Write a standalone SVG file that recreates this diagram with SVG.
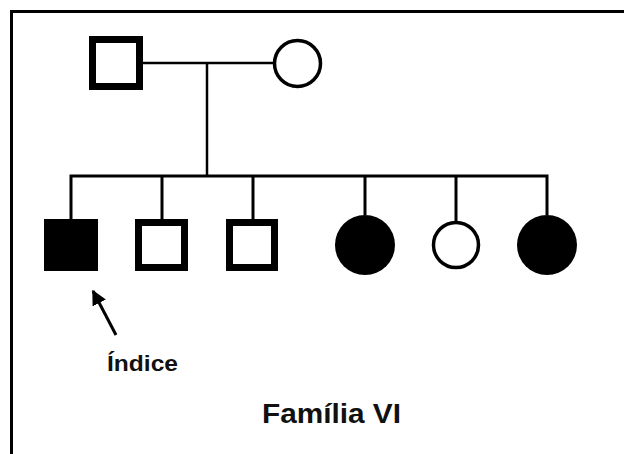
<svg xmlns="http://www.w3.org/2000/svg" width="624" height="454" viewBox="0 0 624 454">
<style>
.ln{stroke:#000;fill:none;stroke-width:3;stroke-linecap:butt}
.sq{fill:#fff;stroke:#000;stroke-width:7}
.ci{fill:#fff;stroke:#000;stroke-width:3.5}
.af{fill:#000;stroke:none}
.t{font-family:"Liberation Sans",Arial,sans-serif;font-weight:bold;fill:#111}
</style>
<defs>
<marker id="ah" viewBox="0 0 10 10" refX="9" refY="5" markerWidth="5" markerHeight="5" orient="auto" markerUnits="strokeWidth">
<path d="M0,0 L10,5 L0,10 z" fill="#000"/>
</marker>
</defs>
<rect width="624" height="454" fill="#fff"/>
<g id="frame">
<path d="M11.5,454 V11.5 H624" fill="none" stroke="#000" stroke-width="3"/>
</g>
<g id="connectors">
<line class="ln" x1="143" y1="63" x2="274" y2="63" style="stroke-width:2.5"/>
<line class="ln" x1="207" y1="63" x2="207" y2="176" style="stroke-width:2.5"/>
<path class="ln" d="M71,219 V176 H547 V215"/>
<line class="ln" x1="162" y1="176" x2="162" y2="219"/>
<line class="ln" x1="253" y1="176" x2="253" y2="219"/>
<line class="ln" x1="365" y1="176" x2="365" y2="215"/>
<line class="ln" x1="456" y1="176" x2="456" y2="222"/>
<line class="ln" x1="116" y1="335" x2="93" y2="291" marker-end="url(#ah)"/>
</g>
<g id="father"><rect class="sq" x="92.5" y="39.5" width="47" height="47"/></g>
<g id="mother"><circle class="ci" cx="297.5" cy="63.5" r="23"/></g>
<g id="child1"><rect x="44" y="219" width="54" height="52" fill="#000"/></g>
<g id="child2"><rect class="sq" x="138.5" y="222.5" width="46" height="45"/></g>
<g id="child3"><rect class="sq" x="229.5" y="222.5" width="45" height="45"/></g>
<g id="child4"><circle class="af" cx="365" cy="245" r="30"/></g>
<g id="child5"><circle class="ci" cx="456" cy="245" r="22.5"/></g>
<g id="child6"><circle class="af" cx="547" cy="245" r="30"/></g>
<g id="labels">
<text class="t" x="107" y="371" font-size="22" textLength="71" lengthAdjust="spacingAndGlyphs">Índice</text>
<text class="t" x="262" y="423" font-size="28" textLength="139" lengthAdjust="spacingAndGlyphs">Família VI</text>
</g>
</svg>
